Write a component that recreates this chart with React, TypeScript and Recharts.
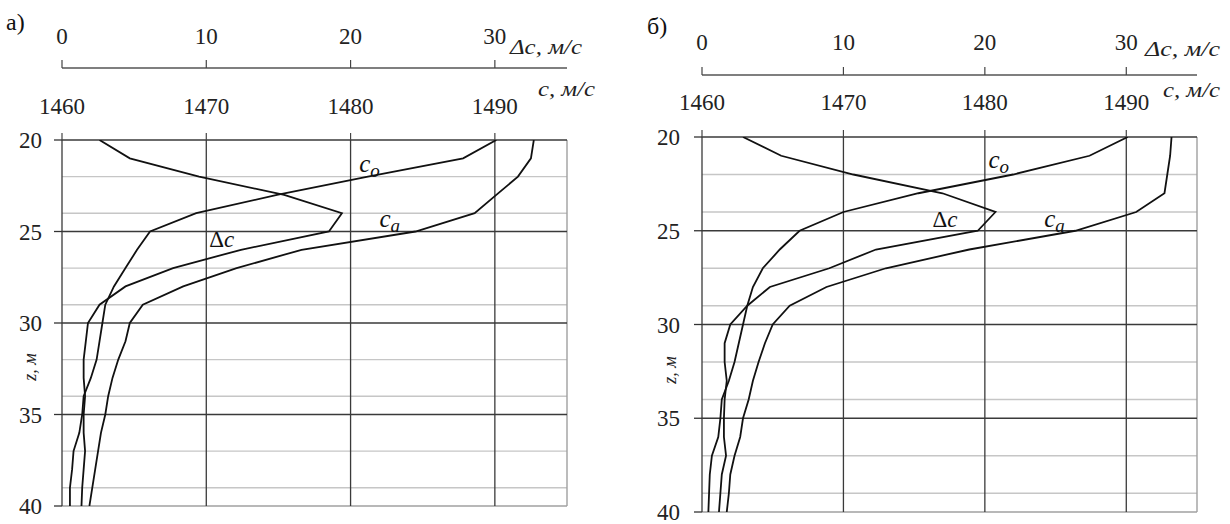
import React from 'react';
import { ScatterChart, Scatter, XAxis, YAxis, CartesianGrid, ReferenceDot } from 'recharts';

const FONT = 'Liberation Serif, Times New Roman, serif';

// depth levels, m
const depths = [20, 21, 22, 23, 24, 25, 26, 27, 28, 29, 30, 31, 32, 33, 34, 35, 36, 37, 38, 39, 40];
const cTicks = [1460, 1470, 1480, 1490];
const dcTicks = [0, 10, 20, 30];
const zTicks = [20, 25, 30, 35, 40];
const zMinor = [21, 22, 23, 24, 26, 27, 28, 29, 31, 32, 33, 34, 36, 37, 38, 39];
const cDomain = [1460, 1495];
const dcDomain = [0, 35];

// Panel а
const coA = [1490.1, 1487.8, 1481.2, 1474.9, 1469.3, 1466.1, 1465.2, 1464.4, 1463.6, 1463.0, 1462.8, 1462.6, 1462.4, 1462.0, 1461.5, 1461.4, 1461.2, 1460.8, 1460.7, 1460.55, 1460.55];
const caA = [1492.7, 1492.5, 1491.6, 1490.1, 1488.6, 1484.5, 1476.6, 1472.1, 1468.4, 1465.6, 1464.7, 1464.4, 1463.9, 1463.5, 1463.2, 1463.0, 1462.7, 1462.5, 1462.3, 1462.1, 1461.9];
const dcA = [2.6, 4.7, 9.5, 15.4, 19.4, 18.5, 12.4, 7.7, 4.4, 2.6, 1.8, 1.65, 1.5, 1.5, 1.6, 1.5, 1.5, 1.6, 1.5, 1.4, 1.35];

// Panel б
const coB = [1490.1, 1487.4, 1482.0, 1475.3, 1470.0, 1466.9, 1465.5, 1464.3, 1463.6, 1463.2, 1462.9, 1462.6, 1462.3, 1461.9, 1461.4, 1461.3, 1461.15, 1460.7, 1460.55, 1460.5, 1460.45];
const caB = [1493.2, 1493.1, 1492.9, 1492.7, 1490.7, 1486.4, 1478.9, 1473.0, 1468.8, 1466.2, 1465.0, 1464.45, 1464.0, 1463.6, 1463.3, 1462.9, 1462.7, 1462.3, 1462.0, 1461.9, 1461.75];
const dcB = [2.9, 5.6, 10.7, 17.0, 20.75, 19.5, 12.3, 9.0, 4.8, 3.2, 2.0, 1.6, 1.6, 1.75, 1.6, 1.55, 1.55, 1.7, 1.4, 1.3, 1.2];

// curve label anchors
const labelsA = [
  { pre: '', main: 'c', sub: 'o', c: 1480.6, z: 21.73 },
  { pre: '', main: 'c', sub: 'a', c: 1482.0, z: 24.74 },
  { pre: 'Δ', main: 'c', sub: '', c: 1470.2, z: 25.83 },
];
const labelsB = [
  { pre: '', main: 'c', sub: 'o', c: 1480.25, z: 21.67 },
  { pre: '', main: 'c', sub: 'a', c: 1484.2, z: 24.78 },
  { pre: 'Δ', main: 'c', sub: '', c: 1476.3, z: 24.78 },
];

const toPoints = (vals: number[]) => depths.map((z, i) => ({ z, v: vals[i] }));

const CurveLabel = (props: any) => {
  const { viewBox, pre, main, sub } = props;
  const x = viewBox.x + (viewBox.width || 0) / 2;
  const y = viewBox.y + (viewBox.height || 0) / 2;
  return (
    <text x={x} y={y} style={{ fontFamily: FONT }} fill="#111" fontSize={pre ? 23 : 25}>
      {pre ? <tspan>{pre}</tspan> : null}
      <tspan fontStyle="italic">{main}</tspan>
      {sub ? <tspan fontStyle="italic" fontSize={19} dy={5}>{sub}</tspan> : null}
    </text>
  );
};

const XTick = (props: any) => {
  const { x, y, payload } = props;
  return (
    <text x={x} y={y} textAnchor="middle" style={{ fontFamily: FONT, fontSize: 23 }} fill="#222">
      {payload.value}
    </text>
  );
};

const YTick = (props: any) => {
  const { x, y, payload } = props;
  return (
    <text x={x} y={y} dy={8} textAnchor="end" style={{ fontFamily: FONT, fontSize: 23 }} fill="#222">
      {payload.value}
    </text>
  );
};

const LINE = { stroke: '#111', strokeWidth: 1.8, fill: 'none' };
const NoShape = () => <g />;

type PanelProps = {
  width: number;
  height: number;
  margin: { top: number; right: number; bottom: number; left: number };
  cAxisHeight: number;
  dcAxisHeight: number;
  cTickMargin: number;
  dcTickMargin: number;
  yWidth: number;
  yTickMargin: number;
  co: number[];
  ca: number[];
  dc: number[];
  labels: typeof labelsA;
};

const Panel = (p: PanelProps) => {
  return (
    <ScatterChart width={p.width} height={p.height} margin={p.margin}>
      <CartesianGrid xAxisId="c" horizontalValues={zMinor} vertical={false} stroke="#c6c6c6" strokeWidth={1.4} />
      <CartesianGrid xAxisId="c" horizontalValues={[40]} verticalValues={[1495]} stroke="#a0a0a0" strokeWidth={1.4} />
      <CartesianGrid xAxisId="c" horizontalValues={[20, 25, 30, 35]} verticalValues={cTicks} stroke="#3a3a3a" strokeWidth={1.3} />
      <XAxis
        xAxisId="c"
        orientation="top"
        type="number"
        dataKey="v"
        domain={cDomain}
        ticks={cTicks}
        allowDataOverflow
        axisLine={false}
        tickLine={{ stroke: '#444', strokeWidth: 1.2 }}
        tickSize={7}
        tickMargin={p.cTickMargin}
        height={p.cAxisHeight}
        tick={<XTick />}
      />
      <XAxis
        xAxisId="d"
        orientation="top"
        type="number"
        dataKey="v"
        domain={dcDomain}
        ticks={dcTicks}
        allowDataOverflow
        axisLine={{ stroke: '#555', strokeWidth: 1.4 }}
        tickLine={{ stroke: '#444', strokeWidth: 1.2 }}
        tickSize={8}
        tickMargin={p.dcTickMargin}
        height={p.dcAxisHeight}
        tick={<XTick />}
      />
      <YAxis
        type="number"
        dataKey="z"
        domain={[20, 40]}
        ticks={zTicks}
        reversed
        allowDataOverflow
        axisLine={false}
        tickLine={{ stroke: '#333', strokeWidth: 1.3 }}
        tickSize={8}
        tickMargin={p.yTickMargin}
        width={p.yWidth}
        tick={<YTick />}
      />
      <Scatter name="c_o" xAxisId="c" data={toPoints(p.co)} line={LINE} fill="#111" shape={NoShape} isAnimationActive={false} />
      <Scatter name="c_a" xAxisId="c" data={toPoints(p.ca)} line={LINE} fill="#111" shape={NoShape} isAnimationActive={false} />
      <Scatter name="Δc" xAxisId="d" data={toPoints(p.dc)} line={LINE} fill="#111" shape={NoShape} isAnimationActive={false} />
      {p.labels.map((l, i) => (
        <ReferenceDot
          key={i}
          xAxisId="c"
          x={l.c}
          y={l.z}
          r={1}
          fill="none"
          stroke="none"
          ifOverflow="visible"
          label={<CurveLabel pre={l.pre} main={l.main} sub={l.sub} />}
        />
      ))}
    </ScatterChart>
  );
};

const T = { fontFamily: FONT };

const Overlay = () => (
  <svg width={1230} height={524} style={{ position: 'absolute', left: 0, top: 0, pointerEvents: 'none' }}>
    <text x={6} y={30} style={{ ...T, fontSize: 24 }} fill="#111">а)</text>
    <text x={647} y={34} style={{ ...T, fontSize: 24 }} fill="#111">б)</text>
    <text x={510} y={54} style={{ ...T, fontSize: 20, fontStyle: 'italic' }} fill="#222" textLength={72} lengthAdjust="spacingAndGlyphs">Δc, м/с</text>
    <text x={538} y={96} style={{ ...T, fontSize: 20, fontStyle: 'italic' }} fill="#222" textLength={57} lengthAdjust="spacingAndGlyphs">c, м/с</text>
    <text x={1145} y={56} style={{ ...T, fontSize: 20, fontStyle: 'italic' }} fill="#222" textLength={75} lengthAdjust="spacingAndGlyphs">Δc, м/с</text>
    <text x={1163} y={97} style={{ ...T, fontSize: 20, fontStyle: 'italic' }} fill="#222" textLength={57} lengthAdjust="spacingAndGlyphs">c, м/с</text>
    <text x={36} y={367} transform="rotate(-90 36 367)" textAnchor="middle" style={{ ...T, fontSize: 18, fontStyle: 'italic' }} fill="#222">z, м</text>
    <text x={676} y={370} transform="rotate(-90 676 370)" textAnchor="middle" style={{ ...T, fontSize: 18, fontStyle: 'italic' }} fill="#222">z, м</text>
  </svg>
);

export default function App() {
  return (
    <div style={{ position: 'absolute', left: 0, top: 0, width: 1230, height: 524, background: '#fff' }}>
      <div style={{ position: 'absolute', left: 0, top: 0 }}>
        <Panel
          width={615}
          height={524}
          margin={{ top: 20, right: 48, bottom: 18, left: 12 }}
          cAxisHeight={72}
          dcAxisHeight={48}
          cTickMargin={19}
          dcTickMargin={16}
          yWidth={50}
          yTickMargin={12}
          co={coA}
          ca={caA}
          dc={dcA}
          labels={labelsA}
        />
      </div>
      <div style={{ position: 'absolute', left: 615, top: 0 }}>
        <Panel
          width={615}
          height={524}
          margin={{ top: 27, right: 33, bottom: 12, left: 37 }}
          cAxisHeight={62}
          dcAxisHeight={48}
          cTickMargin={20}
          dcTickMargin={17}
          yWidth={50}
          yTickMargin={14}
          co={coB}
          ca={caB}
          dc={dcB}
          labels={labelsB}
        />
      </div>
      <Overlay />
    </div>
  );
}
